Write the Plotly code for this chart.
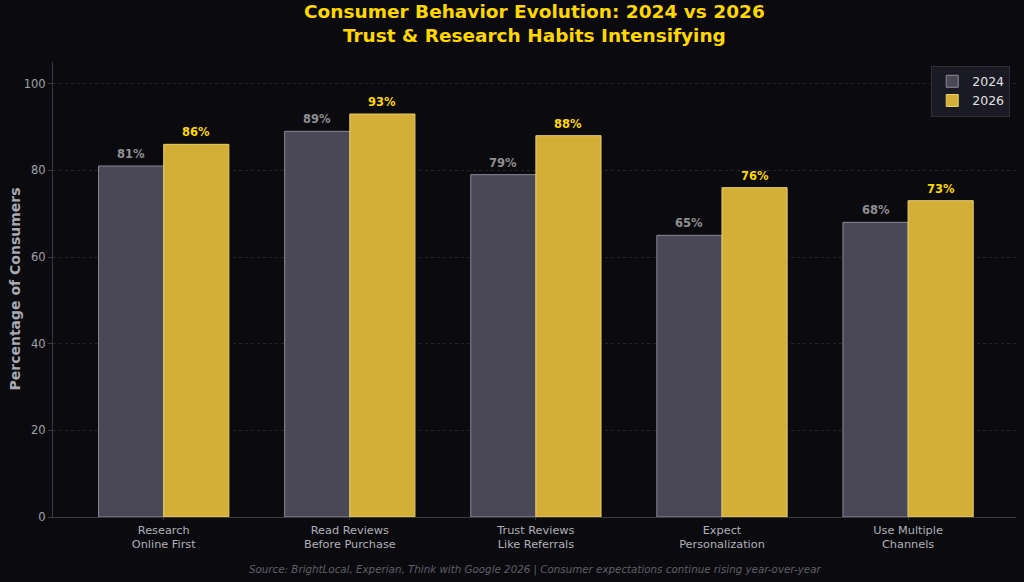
import plotly.graph_objects as go

categories = ["Research<br>Online First", "Read Reviews<br>Before Purchase", "Trust Reviews<br>Like Referrals",
              "Expect<br>Personalization", "Use Multiple<br>Channels"]
values_2024 = [81, 89, 79, 65, 68]
values_2026 = [86, 93, 88, 76, 73]

BG = "#0b0b0f"
C24 = "#4a4857"
C26 = "#d4af37"
GOLD = "#ffd700"
FONT = "DejaVu Sans"

x_idx = list(range(len(categories)))
w = 0.35

fig = go.Figure()
fig.add_trace(go.Bar(x=[i - w / 2 for i in x_idx], y=values_2024, width=w, name="2024",
                     marker=dict(color=C24, line=dict(color="#8c8a96", width=1))))
fig.add_trace(go.Bar(x=[i + w / 2 for i in x_idx], y=values_2026, width=w, name="2026",
                     marker=dict(color=C26, line=dict(color="#e8cf6a", width=1))))

for i, v in enumerate(values_2024):
    fig.add_annotation(x=i - w / 2, y=v, text=f"<b>{v}%</b>", showarrow=False, yanchor="bottom", yshift=3,
                       font=dict(family=FONT, size=11.5, color="#8f8f8f"))
for i, v in enumerate(values_2026):
    fig.add_annotation(x=i + w / 2, y=v, text=f"<b>{v}%</b>", showarrow=False, yanchor="bottom", yshift=3,
                       font=dict(family=FONT, size=11.5, color=GOLD))

# Title
fig.add_annotation(xref="paper", yref="paper", x=0.5, y=1.0, yshift=63, yanchor="top",
                   text="<b>Consumer Behavior Evolution: 2024 vs 2026<br>Trust & Research Habits Intensifying</b>",
                   showarrow=False, font=dict(family=FONT, size=18.5, color=GOLD))
# Y title
fig.add_annotation(xref="paper", yref="paper", x=0, xshift=-39, xanchor="center", y=0.5, yanchor="middle",
                   textangle=-90, text="<b>Percentage of Consumers</b>", showarrow=False,
                   font=dict(family=FONT, size=14, color="#a9a9b3"))
# Source
fig.add_annotation(xref="paper", yref="paper", x=0.5, y=0, yshift=-44, yanchor="top",
                   text="<i>Source: BrightLocal, Experian, Think with Google 2026 | Consumer expectations continue rising year-over-year</i>",
                   showarrow=False, font=dict(family=FONT, size=10.3, color="#5f5f66"))

fig.update_layout(
    width=1024, height=582,
    paper_bgcolor=BG, plot_bgcolor=BG,
    margin=dict(l=53, r=8, t=62, b=65),
    barmode="overlay",
    font=dict(family=FONT, color="#b0b0b8"),
    legend=dict(x=0.994, y=0.992, xanchor="right", yanchor="top", bgcolor="#1a1a24",
                bordercolor="#2e2e38", borderwidth=1, tracegroupgap=0,
                font=dict(family=FONT, size=12.5, color="#e0e0e0")),
    xaxis=dict(tickmode="array", tickvals=x_idx, ticktext=categories, range=[-0.595, 4.58],
               showgrid=False, zeroline=False, showline=True, linecolor="#3a3a42", linewidth=1,
               ticks="outside", ticklen=2, tickcolor="#3a3a42", automargin=False,
               tickfont=dict(family=FONT, size=11.3, color="#b0b0b8")),
    yaxis=dict(range=[0, 105], tickvals=[0, 20, 40, 60, 80, 100],
               showgrid=True, gridcolor="#24242b", griddash="3px,3px", gridwidth=0.6,
               zeroline=False, showline=True, linecolor="#3a3a42", linewidth=1,
               ticks="outside", ticklen=4, tickcolor="#3a3a42", automargin=False,
               tickfont=dict(family=FONT, size=11.5, color="#a0a0a8")),
)

fig.write_html("out.html")
